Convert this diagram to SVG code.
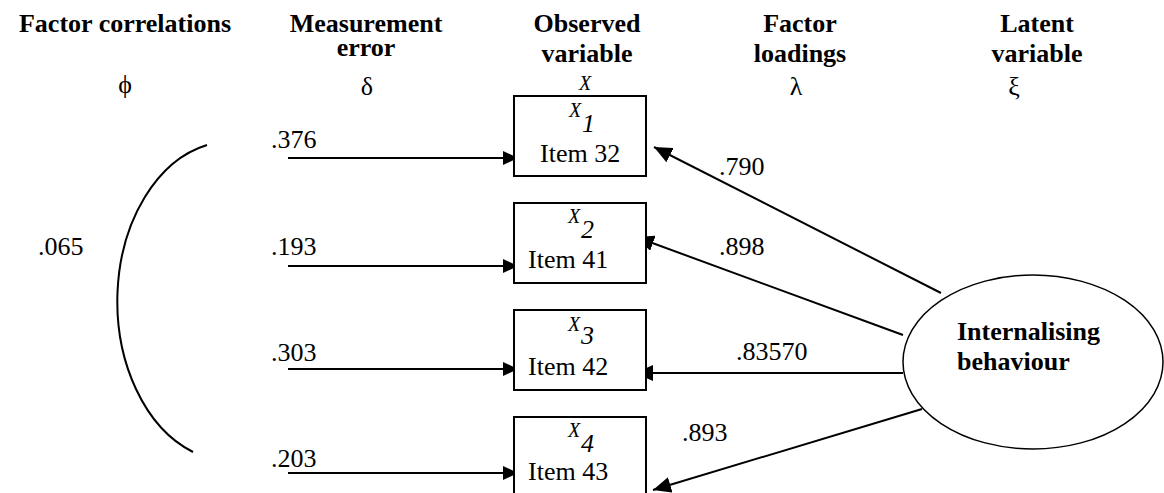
<svg xmlns="http://www.w3.org/2000/svg" width="1164" height="493" viewBox="0 0 1164 493">
<style>
text{font-family:"Liberation Serif","Times New Roman",serif;fill:#000}
.h{font-size:26px;font-weight:bold;text-anchor:middle}
.t{font-size:26px}
.b{font-size:26px;font-weight:bold}
.g{font-size:26px;text-anchor:middle}
.xi{font-size:20px;font-style:italic}
.sub{font-size:26px;font-style:italic}
.box{fill:#fff;stroke:#000;stroke-width:2}
.ln{fill:none;stroke:#000;stroke-width:2}
</style>
<defs>
<marker id="ah" markerUnits="userSpaceOnUse" markerWidth="16" markerHeight="14" refX="15" refY="7" orient="auto">
<path d="M0,0 L15,7 L0,14 z" fill="#000"/>
</marker>
<marker id="ah2" markerUnits="userSpaceOnUse" markerWidth="19" markerHeight="16" refX="18" refY="8" orient="auto">
<path d="M0,0 L18,8 L0,16 z" fill="#000"/>
</marker>
</defs>
<rect width="1164" height="493" fill="#fff"/>
<g id="headers">
<text class="h" x="125" y="32">Factor correlations</text>
<text class="h" x="366" y="32">Measurement</text>
<text class="h" x="366" y="56">error</text>
<text class="h" x="587" y="32">Observed</text>
<text class="h" x="587" y="62">variable</text>
<text class="h" x="800" y="32">Factor</text>
<text class="h" x="800" y="62">loadings</text>
<text class="h" x="1037" y="32">Latent</text>
<text class="h" x="1037" y="62">variable</text>
<text class="g" x="125" y="93">ϕ</text>
<text class="g" x="367" y="95">δ</text>
<text class="xi" x="579" y="90">X</text>
<text class="g" x="796" y="95">λ</text>
<text class="g" x="1014" y="95">ξ</text>
</g>
<g id="connectors">
<path class="ln" d="M207,145 A114 160 0 0 0 193,452"/>
<line class="ln" x1="288" y1="158" x2="518" y2="158" marker-end="url(#ah)"/>
<line class="ln" x1="288" y1="266" x2="518" y2="266" marker-end="url(#ah)"/>
<line class="ln" x1="288" y1="369" x2="518" y2="369" marker-end="url(#ah)"/>
<line class="ln" x1="288" y1="473" x2="518" y2="473" marker-end="url(#ah)"/>
<line class="ln" x1="941" y1="293" x2="654" y2="147" marker-end="url(#ah2)"/>
<line class="ln" x1="903" y1="335" x2="636" y2="237" marker-end="url(#ah2)"/>
<line class="ln" x1="903" y1="373" x2="635" y2="373" marker-end="url(#ah2)"/>
<line class="ln" x1="922" y1="409" x2="653" y2="490" marker-end="url(#ah2)"/>
</g>
<g id="labels">
<text class="t" x="38" y="255">.065</text>
<text class="t" x="271" y="148">.376</text>
<text class="t" x="271" y="255">.193</text>
<text class="t" x="271" y="361">.303</text>
<text class="t" x="271" y="467">.203</text>
<text class="t" x="719" y="175">.790</text>
<text class="t" x="719" y="255">.898</text>
<text class="t" x="736" y="360">.83570</text>
<text class="t" x="682" y="441">.893</text>
</g>
<g id="x1">
<rect class="box" x="514" y="96" width="132" height="80"/>
<text class="xi" x="569" y="117">X</text>
<text class="sub" x="582" y="132">1</text>
<text class="t" x="540" y="162">Item 32</text>
</g>
<g id="x2">
<rect class="box" x="514" y="203" width="132" height="80"/>
<text class="xi" x="568" y="223">X</text>
<text class="sub" x="581" y="238">2</text>
<text class="t" x="528" y="268">Item 41</text>
</g>
<g id="x3">
<rect class="box" x="514" y="310" width="132" height="80"/>
<text class="xi" x="568" y="331">X</text>
<text class="sub" x="581" y="344">3</text>
<text class="t" x="528" y="375">Item 42</text>
</g>
<g id="x4">
<rect class="box" x="514" y="417" width="132" height="80"/>
<text class="xi" x="568" y="437">X</text>
<text class="sub" x="581" y="452">4</text>
<text class="t" x="528" y="480">Item 43</text>
</g>
<g id="latent">
<ellipse cx="1033" cy="362" rx="130" ry="87" fill="#fff" stroke="#000" stroke-width="1.5"/>
<text class="b" x="957" y="340">Internalising</text>
<text class="b" x="957" y="370">behaviour</text>
</g>
</svg>
